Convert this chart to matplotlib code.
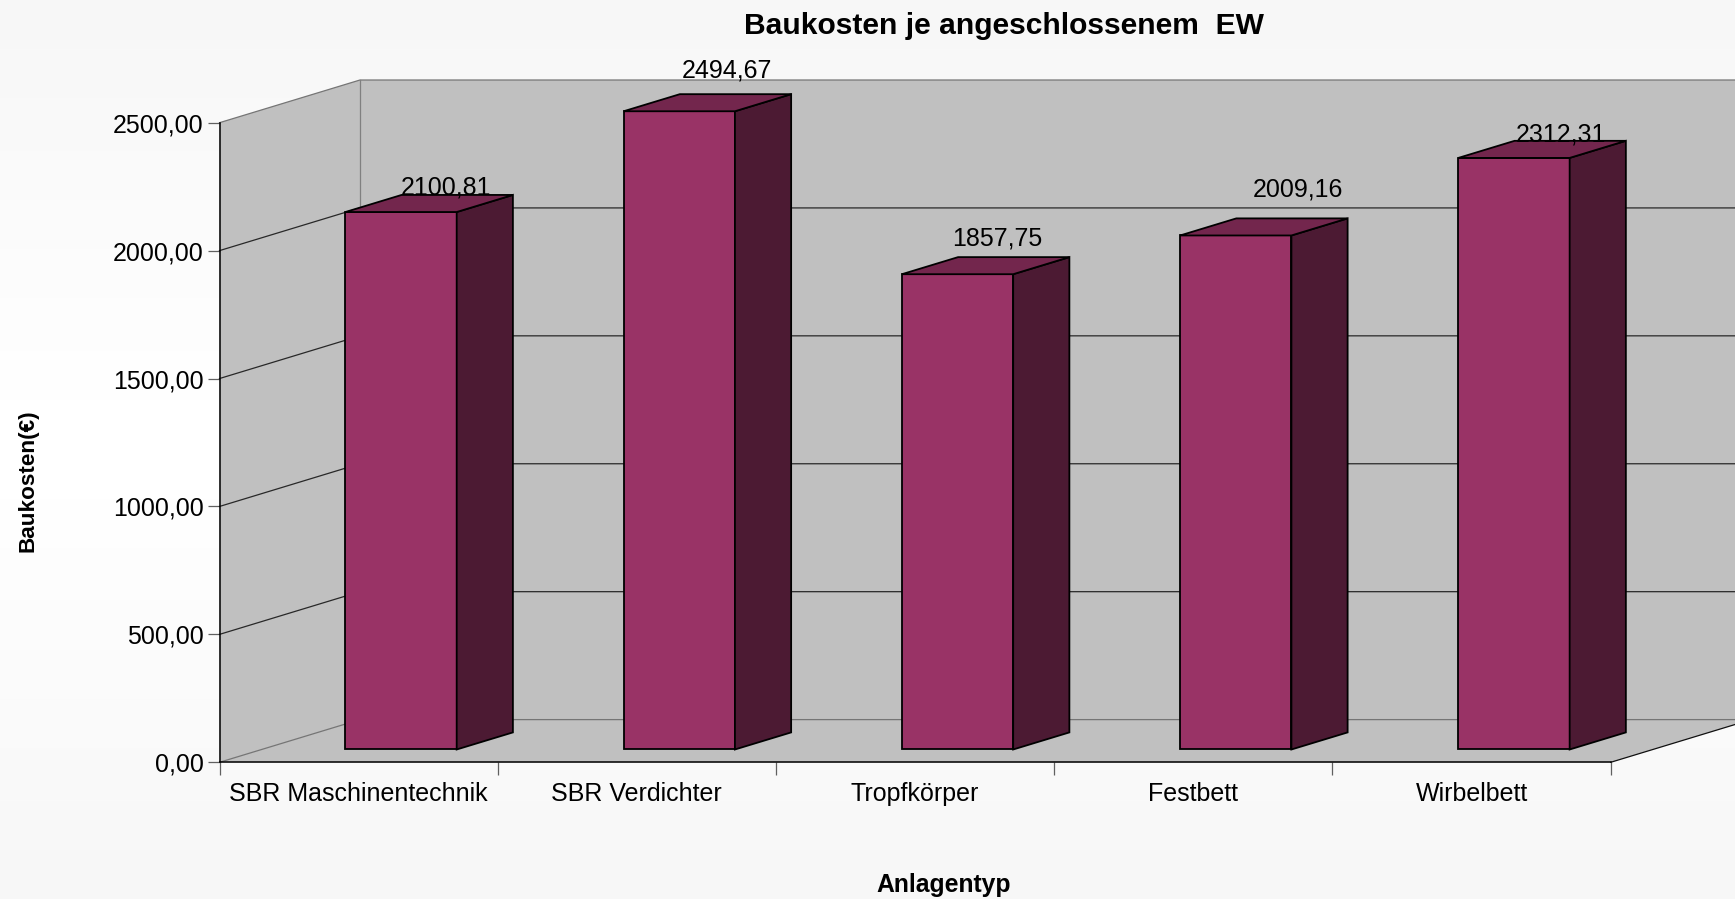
import numpy as np
import matplotlib
matplotlib.use("Agg")
import matplotlib.pyplot as plt

plt.rcParams["font.family"] = ["Liberation Sans", "DejaVu Sans"]

categories = ["SBR Maschinentechnik", "SBR Verdichter", "Tropfkörper", "Festbett", "Wirbelbett"]
values = [2100.81, 2494.67, 1857.75, 2009.16, 2312.31]
value_labels = ["2100,81", "2494,67", "1857,75", "2009,16", "2312,31"]
y_ticks = [0, 500, 1000, 1500, 2000, 2500]
y_tick_labels = ["0,00", "500,00", "1000,00", "1500,00", "2000,00", "2500,00"]

W, H = 1735, 899
# front plane of the chart in pixels
X0, X1, Y0, Y1 = 219.5, 1610.7, 762.3, 122.7
# how far the back wall sits from the front plane, in data units
DX = 140.5 / ((X1 - X0) / 5)
DY = 42.7 / ((Y0 - Y1) / 2500)

WALL = "#c0c0c0"
FRONT = "#993366"
SIDE = "#4c1a33"
TOP = "#73264d"

fig = plt.figure(figsize=(W / 100, H / 100), dpi=100)

# background gradient
bg = fig.add_axes([0, 0, 1, 1], zorder=0)
grad = 1 - 0.035 * np.abs(np.linspace(-1, 1, 256)).reshape(-1, 1)
bg.imshow(grad, aspect="auto", cmap="gray", vmin=0, vmax=1)
bg.axis("off")

ax = fig.add_axes([X0 / W, 1 - Y0 / H, (X1 - X0) / W, (Y0 - Y1) / H], zorder=1)
ax.patch.set_visible(False)
ax.set_xlim(0, 5)
ax.set_ylim(0, 2500)

# walls and floor
ax.fill([0, DX, DX, 0], [0, DY, 2500 + DY, 2500], color=WALL, lw=0, clip_on=False, zorder=1)
ax.fill([DX, 5 + DX, 5 + DX, DX], [DY, DY, 2500 + DY, 2500 + DY], color=WALL, lw=0, clip_on=False, zorder=1)
ax.fill([0, 5, 5 + DX, DX], [0, 0, DY, DY], color=WALL, lw=0, clip_on=False, zorder=1)

# grid on back wall and side wall
for v in y_ticks:
    c = "#282828" if 0 < v < 2500 else "#757575"
    ax.plot([0, DX, 5 + DX], [v, v + DY, v + DY], color=c, lw=0.9, clip_on=False, zorder=2)
ax.plot([DX, DX], [DY, 2500 + DY], color="#808080", lw=0.9, clip_on=False, zorder=2)
ax.plot([5, 5 + DX], [0, DY], color="#101010", lw=0.9, clip_on=False, zorder=2)

# bars
x = np.arange(5) + 0.3 + 0.3 * DX + 0.001
w = 0.4
dx = 0.4 * DX
dy = 0.4 * DY
base = 0.3 * DY
for xi, v in zip(x, values):
    top = base + v
    ax.bar(xi, v, width=w, bottom=base, align="edge", color=FRONT, edgecolor="black", lw=1.3, clip_on=False, zorder=3)
    ax.fill([xi + w, xi + w + dx, xi + w + dx, xi + w], [base, base + dy, top + dy, top],
            facecolor=SIDE, edgecolor="black", lw=1.3, clip_on=False, zorder=3)
    ax.fill([xi, xi + dx, xi + w + dx, xi + w], [top, top + dy, top + dy, top],
            facecolor=TOP, edgecolor="black", lw=1.3, clip_on=False, zorder=3)

# value labels, nudged by hand like in the original (px)
nudge_x = [17, 20, 12, 34, 19]
nudge_y = [7, 24, 19, 29, 6]
for xi, v, t, nx, ny in zip(x, values, value_labels, nudge_x, nudge_y):
    ax.annotate(t, (xi + w / 2 + dx / 2, base + v + dy), xytext=(nx * 0.72, ny * 0.72),
                textcoords="offset points", ha="center", va="center", fontsize=18,
                color="black", annotation_clip=False, zorder=5)

for s in ["top", "right"]:
    ax.spines[s].set_visible(False)
for s in ["left", "bottom"]:
    ax.spines[s].set_linewidth(1.1)
    ax.spines[s].set_color("black")
    ax.spines[s].set_zorder(4)

ax.set_yticks(y_ticks)
ax.set_yticklabels(y_tick_labels, fontsize=18)
ax.tick_params(axis="y", length=9, width=0.9, color="#606060", pad=2.5)
ax.set_xticks(np.arange(6))
ax.set_xticklabels([])
ax.tick_params(axis="x", length=9, width=0.9, color="#606060")
ax.set_xticks(np.arange(5) + 0.5, minor=True)
ax.set_xticklabels(categories, minor=True, fontsize=18)
ax.tick_params(axis="x", which="minor", length=0, pad=14.5)

fig.text(1004 / W, 1 - 26 / H, "Baukosten je angeschlossenem  EW", ha="center", va="center",
         fontsize=21.6, fontweight="bold")
fig.text(944 / W, 1 - 885 / H, "Anlagentyp", ha="center", va="center", fontsize=17.8, fontweight="bold")
fig.text(28.5 / W, 1 - 481 / H, "Baukosten(€)", ha="center", va="center", rotation=90,
         fontsize=16.2, fontweight="bold")

fig.savefig("out.png", dpi=100)
